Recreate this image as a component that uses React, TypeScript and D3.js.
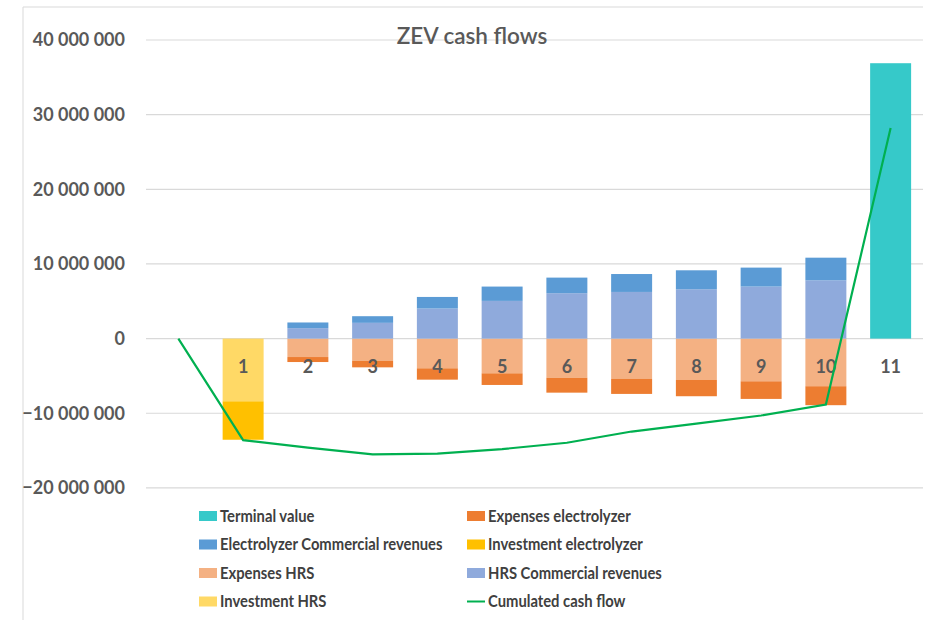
import React from "react";
import * as d3 from "d3";

const categories = ["", "1", "2", "3", "4", "5", "6", "7", "8", "9", "10", "11"];
const investmentHRS = [0, -8400000, 0, 0, 0, 0, 0, 0, 0, 0, 0, 0];
const investmentElectrolyzer = [0, -5150000, 0, 0, 0, 0, 0, 0, 0, 0, 0, 0];
const expensesHRS = [0, 0, -2470000, -2960000, -3980000, -4650000, -5240000, -5410000, -5540000, -5720000, -6380000, 0];
const expensesElectrolyzer = [0, 0, -670000, -890000, -1520000, -1560000, -2000000, -2000000, -2180000, -2360000, -2540000, 0];
const hrsRevenues = [0, 0, 1400000, 2110000, 4030000, 5050000, 6080000, 6250000, 6610000, 6970000, 7810000, 0];
const electrolyzerRevenues = [0, 0, 760000, 890000, 1550000, 1920000, 2090000, 2400000, 2540000, 2540000, 3030000, 0];
const terminalValue = [0, 0, 0, 0, 0, 0, 0, 0, 0, 0, 0, 36890000];
const cumulatedCashFlow = [0, -13600000, -14600000, -15500000, -15400000, -14800000, -13950000, -12450000, -11400000, -10300000, -8840000, 28200000];
const yTicks = [-20000000, -10000000, 0, 10000000, 20000000, 30000000, 40000000];

const seriesDefs = [
  { key: "investmentHRS", name: "Investment HRS", color: "#FFD966", values: investmentHRS },
  { key: "investmentElectrolyzer", name: "Investment electrolyzer", color: "#FFC000", values: investmentElectrolyzer },
  { key: "expensesHRS", name: "Expenses HRS", color: "#F4B183", values: expensesHRS },
  { key: "expensesElectrolyzer", name: "Expenses electrolyzer", color: "#ED7D31", values: expensesElectrolyzer },
  { key: "hrsRevenues", name: "HRS Commercial revenues", color: "#8FAADC", values: hrsRevenues },
  { key: "electrolyzerRevenues", name: "Electrolyzer Commercial revenues", color: "#5B9BD5", values: electrolyzerRevenues },
  { key: "terminalValue", name: "Terminal value", color: "#36C9C9", values: terminalValue },
];

const legendItems = [
  { name: "Terminal value", color: "#36C9C9", type: "rect" },
  { name: "Expenses electrolyzer", color: "#ED7D31", type: "rect" },
  { name: "Electrolyzer Commercial revenues", color: "#5B9BD5", type: "rect" },
  { name: "Investment electrolyzer", color: "#FFC000", type: "rect" },
  { name: "Expenses HRS", color: "#F4B183", type: "rect" },
  { name: "HRS Commercial revenues", color: "#8FAADC", type: "rect" },
  { name: "Investment HRS", color: "#FFD966", type: "rect" },
  { name: "Cumulated cash flow", color: "#00B050", type: "line" },
];

const FONT = "Lato, 'Open Sans', sans-serif";
const TEXT = "#595959";

export default function App() {
  const width = 930;
  const height = 620;
  const x = d3.scaleBand<string>().domain(categories).range([146, 923]).paddingInner(0.367).paddingOuter(0.1835);
  const y = d3.scaleLinear().domain([-20000000, 40000000]).range([487.9, 40]);

  const table = categories.map((c, i) => {
    const row: any = { cat: c };
    seriesDefs.forEach((s) => (row[s.key] = s.values[i]));
    return row;
  });
  const stack = d3.stack<any>().keys(seriesDefs.map((s) => s.key)).offset(d3.stackOffsetDiverging);
  const stacked = stack(table);

  const fmt = (v: number) => d3.format(",")(v).replace(/,/g, " ");
  const line = d3
    .line<number>()
    .x((_, i) => (x(categories[i]) as number) + x.bandwidth() / 2)
    .y((d) => y(d));

  return (
    <div style={{ position: "fixed", left: 0, top: 0 }}>
      <svg width={width} height={height} style={{ display: "block", background: "#fff" }}>
        <line x1={23} x2={923} y1={7} y2={7} stroke="#D9D9D9" />
        <line x1={23} x2={23} y1={7} y2={620} stroke="#D9D9D9" />
        {yTicks.map((t) => (
          <g key={t}>
            <line x1={146} x2={923} y1={y(t)} y2={y(t)} stroke="#D9D9D9" strokeWidth={1.2} />
            <text x={125} y={y(t)} dy="0.35em" textAnchor="end" fontFamily={FONT} fontWeight="bold" fontSize={18} fill={TEXT}>
              {fmt(t)}
            </text>
          </g>
        ))}
        <text x={472} y={44} textAnchor="middle" fontFamily={FONT} fontSize={22.5} fontWeight={600} fill={TEXT}>
          ZEV cash flows
        </text>
        {stacked.map((layer, li) => (
          <g key={layer.key} fill={seriesDefs[li].color}>
            {layer.map((d, i) =>
              d[0] === d[1] ? null : (
                <rect
                  key={i}
                  x={x(categories[i]) as number}
                  width={x.bandwidth()}
                  y={y(Math.max(d[0], d[1]))}
                  height={Math.abs(y(d[0]) - y(d[1]))}
                />
              )
            )}
          </g>
        ))}
        {categories.map((c) => (
          <text
            key={"c" + c}
            x={(x(c) as number) + x.bandwidth() / 2}
            y={367}
            dy="0.35em"
            textAnchor="middle"
            fontFamily={FONT}
            fontWeight="bold"
            fontSize={18}
            fill={TEXT}
          >
            {c}
          </text>
        ))}
        <path d={line(cumulatedCashFlow) || ""} fill="none" stroke="#00B050" strokeWidth={2.2} />
        {legendItems.map((item, i) => {
          const col = i % 2;
          const row = Math.floor(i / 2);
          const sx = col === 0 ? 199 : 467;
          const cy = 516 + row * 28.5;
          return (
            <g key={item.name}>
              {item.type === "rect" ? (
                <rect x={sx} y={cy - 5} width={18} height={10} fill={item.color} />
              ) : (
                <line x1={sx} x2={sx + 18} y1={cy} y2={cy} stroke={item.color} strokeWidth={2} />
              )}
              <g transform={`translate(${sx + 21},${cy}) scale(0.87,1)`}>
                <text x={0} y={0} dy="0.35em" fontFamily={FONT} fontWeight="bold" fontSize={17} fill="#404040">
                  {item.name}
                </text>
              </g>
            </g>
          );
        })}
      </svg>
    </div>
  );
}
